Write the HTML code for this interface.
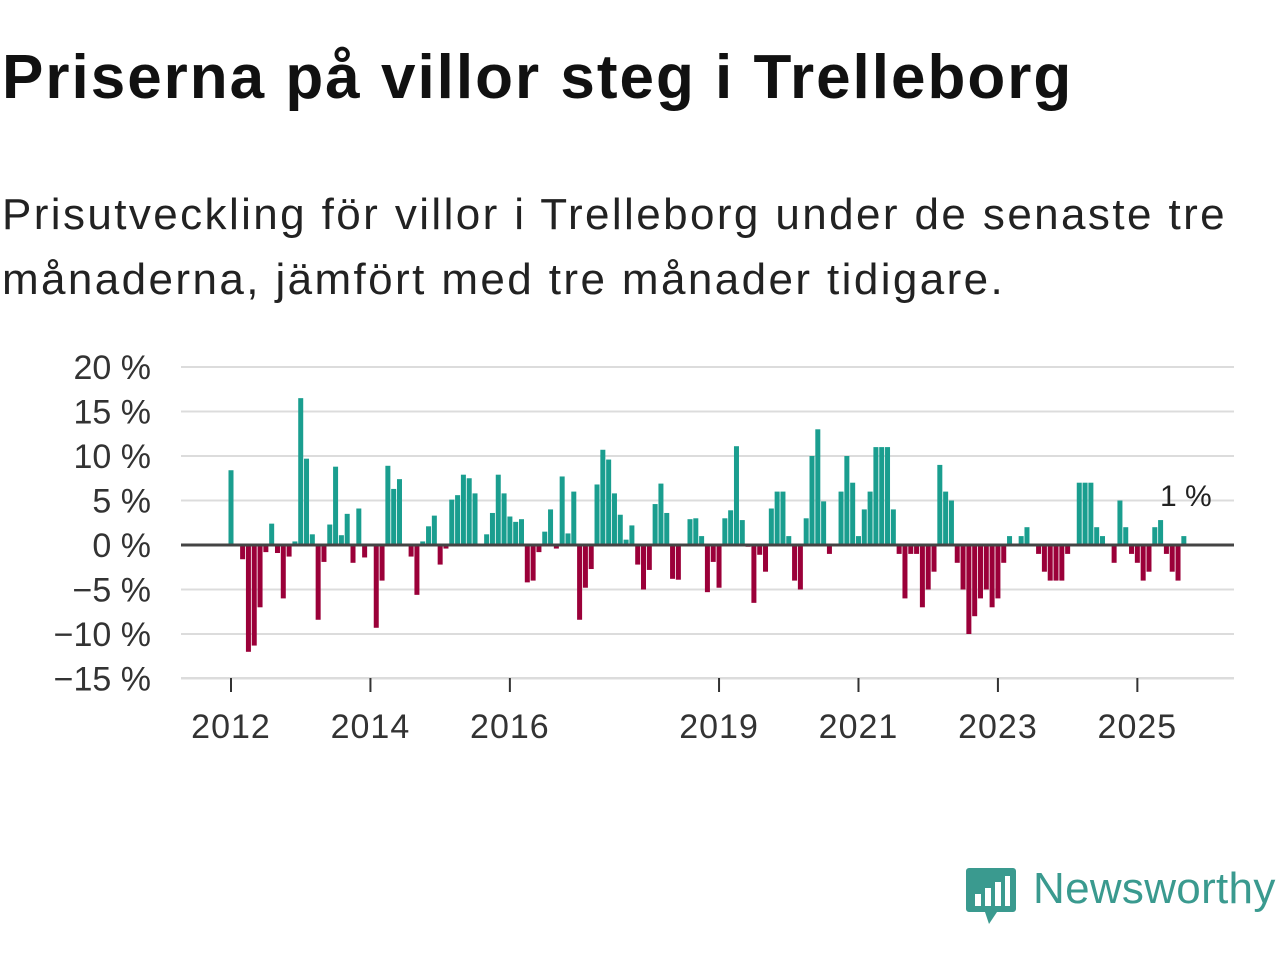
<!DOCTYPE html>
<html><head><meta charset="utf-8">
<style>
body{margin:0;width:1280px;height:960px;background:#fff;font-family:"Liberation Sans","DejaVu Sans",sans-serif;overflow:hidden;position:relative}
h1{position:absolute;left:2px;top:42px;margin:0;font-size:62px;font-weight:bold;color:#111;letter-spacing:2px;white-space:nowrap}
.sub{position:absolute;left:2px;top:182px;margin:0;font-size:44px;line-height:65px;color:#222;width:1260px;letter-spacing:2.4px}
</style></head><body>
<h1>Priserna på villor steg i Trelleborg</h1>
<p class="sub">Prisutveckling för villor i Trelleborg under de senaste tre<br>månaderna, jämfört med tre månader tidigare.</p>
<svg id="chart" width="1280" height="800" style="position:absolute;left:0;top:0" xmlns="http://www.w3.org/2000/svg"></svg>
<div style="position:absolute;left:965px;top:866px;width:320px;height:60px">
<svg width="52" height="60"><path d="M4 2h44a3 3 0 0 1 3 3v38a3 3 0 0 1-3 3H32l-8 12-4-12H4a3 3 0 0 1-3-3V5a3 3 0 0 1 3-3z" fill="#3a9a8f"/><rect x="10" y="28" width="6" height="12" fill="#fff"/><rect x="20" y="22" width="6" height="18" fill="#fff"/><rect x="30" y="16" width="6" height="24" fill="#fff"/><rect x="40" y="10" width="5" height="30" fill="#fff"/></svg>
<span style="position:absolute;left:68px;top:-2px;font-size:44px;color:#3a9a8f;letter-spacing:0.3px">Newsworthy</span>
</div>
<script>
const values = [8.4,0,-1.6,-12,-11.3,-7,-0.8,2.4,-0.9,-6,-1.3,0.4,16.5,9.7,1.2,-8.4,-1.9,2.3,8.8,1.1,3.5,-2,4.1,-1.4,0,-9.3,-4,8.9,6.3,7.4,0,-1.3,-5.6,0.4,2.1,3.3,-2.2,-0.4,5.1,5.6,7.9,7.5,5.8,0,1.2,3.6,7.9,5.8,3.2,2.6,2.9,-4.2,-4.0,-0.8,1.5,4.0,-0.4,7.7,1.3,6.0,-8.4,-4.8,-2.7,6.8,10.7,9.6,5.8,3.4,0.6,2.2,-2.2,-5.0,-2.8,4.6,6.9,3.6,-3.8,-3.9,0,2.9,3.0,1.0,-5.3,-1.9,-4.8,3.0,3.9,11.1,2.8,-0.2,-6.5,-1.1,-3,4.1,6,6,1,-4,-5,3,10,13,4.9,-1,0,6,10,7,1,4,6,11,11,11,4,-1,-6,-1,-1,-7,-5,-3,9,6,5,-2,-5,-10,-8,-6,-5,-7,-6,-2,1,0,1,2,0,-1,-3,-4,-4,-4,-1,0,7,7,7,2,1,0,-2,5,2,-1,-2,-4,-3,2,2.8,-1,-3,-4,1];
const startYear = 2012;
const yTicks = [-15,-10,-5,0,5,10,15,20];
const yTickLabels = ["\u221215 %","\u221210 %","\u22125 %","0 %","5 %","10 %","15 %","20 %"];
const xTickYears = [2012,2014,2016,2019,2021,2023,2025];
const lastLabel = "1 %";

const svg = document.getElementById('chart');
const NS = 'http://www.w3.org/2000/svg';
const x0 = 231, monthW = 5.81;
const y = v => 545 - v * 8.9;
const x = m => x0 + m * monthW;
function mk(tag, attrs){const e=document.createElementNS(NS,tag);for(const k in attrs)e.setAttribute(k,attrs[k]);svg.appendChild(e);return e;}
yTicks.forEach((t,i)=>{
  if(t!==0){const g=mk('line',{x1:181,x2:1234,y1:y(t),y2:y(t),stroke:'#dcdcdc','stroke-width':2});
  
  }
  const tx=mk('text',{x:151,y:y(t)+12,'text-anchor':'end','font-size':34,fill:'#333','font-family':'Liberation Sans, sans-serif'});
  tx.textContent=yTickLabels[i];
  
  
});
values.forEach((v,i)=>{
  const top=Math.min(y(v),y(0)), h=Math.abs(y(v)-y(0));
  const r=mk('rect',{x:x(i)-2.5,y:top,width:5,height:h,fill:v>=0?'#1a9e8f':'#9b0039'});
  
  
});
const zl=mk('line',{x1:181,x2:1234,y1:y(0),y2:y(0),stroke:'#444','stroke-width':3});


const xl=mk('line',{x1:181,x2:1234,y1:678,y2:678,stroke:'#dcdcdc','stroke-width':2});


xTickYears.forEach(yr=>{
  const xx=x((yr-startYear)*12);
  const tk=mk('line',{x1:xx,x2:xx,y1:678,y2:692,stroke:'#333','stroke-width':2});
  
  
  const t=mk('text',{x:xx,y:738,'text-anchor':'middle','font-size':34,fill:'#333','font-family':'Liberation Sans, sans-serif','letter-spacing':1});
  t.textContent=yr;
  
  
});
const last=values.length-1;
const ll=mk('text',{x:x(last)+2,y:y(values[last])-30,'text-anchor':'middle','font-size':30,fill:'#222','font-family':'Liberation Sans, sans-serif'});
ll.textContent=lastLabel;


</script>
</body></html>
